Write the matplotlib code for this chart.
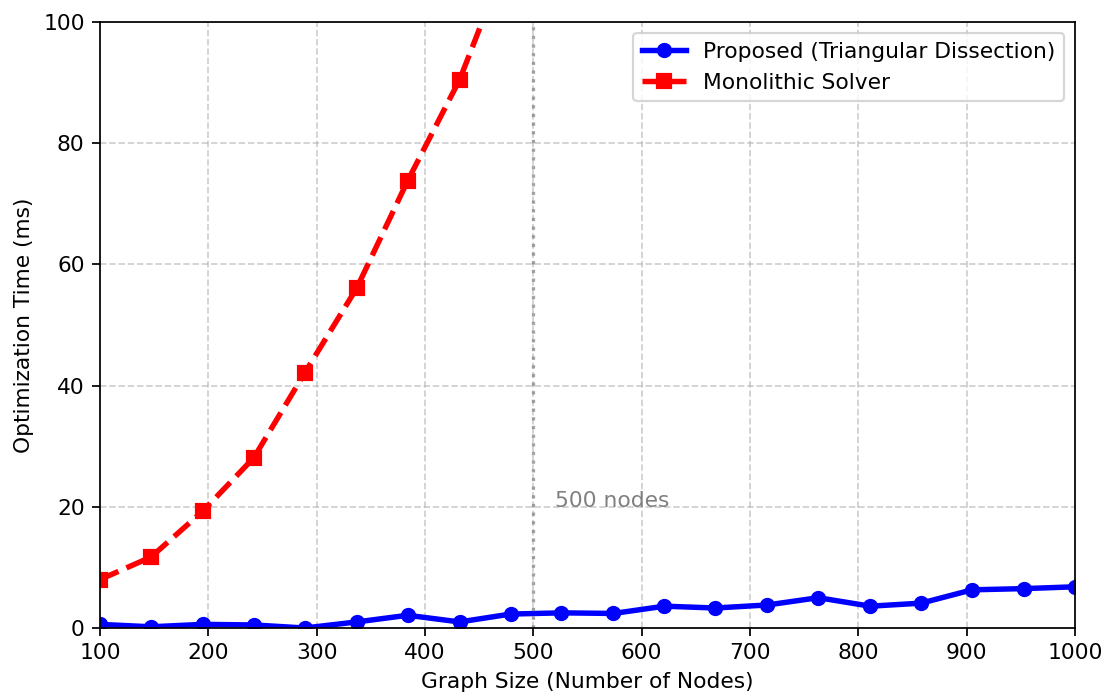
import numpy as np
import matplotlib
matplotlib.use("Agg")
import matplotlib.pyplot as plt

nodes = [100, 147, 195, 242, 289, 337, 384, 432, 479, 526,
         574, 621, 668, 716, 763, 811, 858, 905, 953, 1000]
proposed = [0.6, 0.2, 0.6, 0.5, 0.0, 1.0, 2.1, 1.0, 2.3, 2.5,
            2.4, 3.6, 3.3, 3.8, 5.0, 3.6, 4.1, 6.3, 6.5, 6.8]
mono_nodes = [100, 147, 195, 242, 289, 337, 384, 432, 479]
monolithic = [8.0, 11.7, 19.3, 28.1, 42.1, 56.1, 73.8, 90.5, 112.0]

W, H, DPI = 1108, 695, 157
fig = plt.figure(figsize=(W / DPI, H / DPI), dpi=DPI)
ax = fig.add_axes([100 / W, 1 - 628 / H, (1075 - 100) / W, (628 - 22) / H])

ax.plot(nodes, proposed, color="blue", marker="o", linestyle="-",
        linewidth=2.5, markersize=6, label="Proposed (Triangular Dissection)")
ax.plot(mono_nodes, monolithic, color="red", marker="s", linestyle="--",
        linewidth=2.5, markersize=6, label="Monolithic Solver")

ax.axvline(500, color="gray", linestyle=":", linewidth=1.5, alpha=0.7)
ax.text(520, 20, "500 nodes", color="gray", fontsize=10)

ax.set_xlim(100, 1000)
ax.set_ylim(0, 100)
ax.set_xlabel("Graph Size (Number of Nodes)")
ax.set_ylabel("Optimization Time (ms)")
ax.grid(True, linestyle="--", alpha=0.6)
ax.legend(loc="upper right")

fig.savefig("out.png", dpi=DPI)
